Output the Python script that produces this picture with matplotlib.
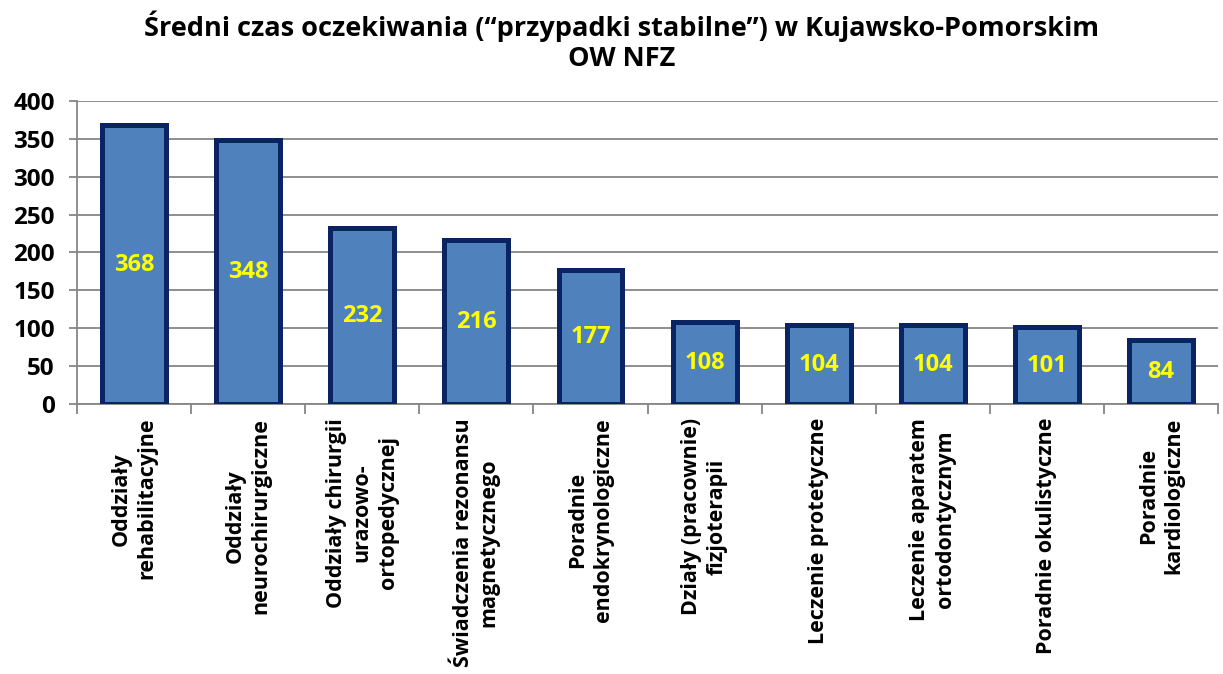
import matplotlib.pyplot as plt
import numpy as np

categories = ['Oddziały\nrehabilitacyjne', 'Oddziały\nneurochirurgiczne',
              'Oddziały chirurgii\nurazowo-\nortopedycznej',
              'Świadczenia rezonansu\nmagnetycznego', 'Poradnie\nendokrynologiczne',
              'Działy (pracownie)\nfizjoterapii', 'Leczenie protetyczne',
              'Leczenie aparatem\nortodontycznym', 'Poradnie okulistyczne',
              'Poradnie\nkardiologiczne']
values = [368, 348, 232, 216, 177, 108, 104, 104, 101, 84]
yticks = [0, 50, 100, 150, 200, 250, 300, 350, 400]

plt.rcParams['font.family'] = ['Open Sans', 'DejaVu Sans']
plt.rcParams['font.weight'] = 'bold'

fig = plt.figure(figsize=(12.23, 6.74), dpi=100)
ax = fig.add_axes([0.063, 0.4006, 0.933, 0.4496])

N = np.arange(len(values))
bars = ax.bar(N, values, width=0.56, color='#4F81BD', edgecolor='#0A2463',
              linewidth=3.6, zorder=3)

for i, v in enumerate(values):
    ax.text(i, v / 2, str(v), ha='center', va='center', color='#FFFF00',
            fontsize=17, fontweight='bold', zorder=4)

ax.set_xlim(-0.5, len(values) - 0.5)
ax.set_ylim(0, 400)
ax.set_yticks(yticks)
ax.set_xticks(N)
ax.set_xticklabels(categories, rotation=90, ha='center', va='top',
                   multialignment='center', fontsize=15.5, fontweight='bold',
                   linespacing=1.3)
ax.set_xticks(np.arange(-0.5, len(values), 1), minor=True)
ax.tick_params(axis='x', which='major', length=0, pad=10)
ax.tick_params(axis='x', which='minor', length=7, width=1.3, color='#868686')
ax.tick_params(axis='y', length=6, width=1.3, color='#868686', labelsize=17.5, pad=10)
for lab in ax.get_yticklabels():
    lab.set_fontweight('bold')

ax.yaxis.grid(True, color='#868686', linewidth=1.3, zorder=0)
ax.set_axisbelow(True)
for s in ['top', 'right']:
    ax.spines[s].set_visible(False)
ax.spines['left'].set_color('#868686')
ax.spines['left'].set_linewidth(1.3)
ax.spines['bottom'].set_color('#868686')
ax.spines['bottom'].set_linewidth(1.3)

fig.text(0.508, 0.985, 'Średni czas oczekiwania (\u201cprzypadki stabilne\u201d) w Kujawsko-Pomorskim\nOW NFZ',
         ha='center', va='top', fontsize=19.5, fontweight='bold', linespacing=1.2)

plt.savefig('out.png', dpi=100)
